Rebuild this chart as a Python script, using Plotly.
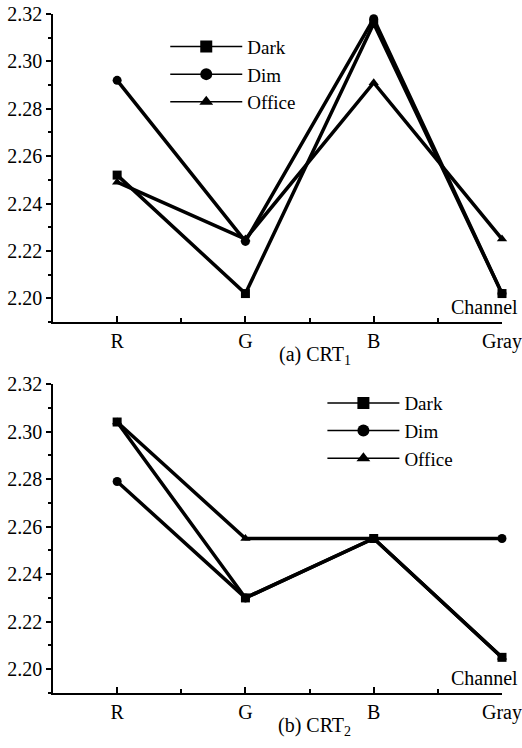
import plotly.graph_objects as go
from plotly.subplots import make_subplots

channels = ["R", "G", "B", "Gray"]
series_names = ["Dark", "Dim", "Office"]
symbols = ["square", "circle", "triangle-up"]

crt1_dark = [2.252, 2.202, 2.316, 2.202]
crt1_dim = [2.292, 2.224, 2.318, 2.202]
crt1_office = [2.249, 2.225, 2.291, 2.225]

crt2_dark = [2.304, 2.230, 2.255, 2.205]
crt2_dim = [2.279, 2.230, 2.255, 2.255]
crt2_office = [2.304, 2.255, 2.255, 2.205]

titles = ["(a) CRT<sub>1</sub>", "(b) CRT<sub>2</sub>"]

FONT = "Liberation Serif, Times New Roman, serif"
xs = list(range(len(channels)))

fig = make_subplots(rows=2, cols=1, vertical_spacing=0.09)

panels = [[crt1_dark, crt1_dim, crt1_office], [crt2_dark, crt2_dim, crt2_office]]
legends = ["legend", "legend2"]
for r, data in enumerate(panels, start=1):
    for name, sym, vals in zip(series_names, symbols, data):
        fig.add_trace(go.Scatter(
            x=xs, y=vals, mode="lines+markers", name=name,
            line=dict(color="black", width=3.5),
            marker=dict(symbol=sym, size=9, color="black"),
            showlegend=False, cliponaxis=False,
        ), row=r, col=1)
    for name, sym in zip(series_names, symbols):
        fig.add_trace(go.Scatter(
            x=[None], y=[None], mode="lines+markers", name=name,
            line=dict(color="black", width=1.5),
            marker=dict(symbol=sym, size=12, color="black"),
            legend=legends[r - 1], showlegend=True,
        ), row=r, col=1)

axis_font = dict(family=FONT, size=20, color="black")
for r in (1, 2):
    fig.update_xaxes(
        range=[-0.5, 3], tickmode="array", tickvals=xs, ticktext=channels,
        showline=True, linecolor="black", linewidth=1.5, mirror=False,
        ticks="inside", ticklen=6, tickwidth=1.5, tickcolor="black",
        minor=dict(tickmode="linear", tick0=0.5, dtick=1, ticks="inside", ticklen=4, tickwidth=1.5, tickcolor="black"),
        showgrid=False, zeroline=False, tickfont=axis_font, automargin=False,
        row=r, col=1)
    fig.update_yaxes(
        range=[2.19, 2.32], tickmode="linear", tick0=2.20, dtick=0.02, tickformat=".2f",
        showline=True, linecolor="black", linewidth=1.5,
        ticks="outside", ticklen=5, tickwidth=1.5, tickcolor="black",
        minor=dict(tickmode="linear", tick0=2.19, dtick=0.01, ticks="outside", ticklen=3, tickwidth=1.5, tickcolor="black"),
        showgrid=False, zeroline=False, tickfont=axis_font, automargin=False,
        row=r, col=1)

fig.update_layout(
    width=522, height=748,
    margin=dict(l=53, r=20, t=14, b=55),
    plot_bgcolor="white", paper_bgcolor="white",
    font=dict(family=FONT, size=20, color="black"),
    yaxis=dict(domain=[0.5464, 1.0]),
    yaxis2=dict(domain=[0.0, 0.4551]),
    legend=dict(x=0.25, y=0.98, xanchor="left", yanchor="top", bgcolor="rgba(0,0,0,0)",
                font=dict(family=FONT, size=19), itemwidth=72, tracegroupgap=0),
    legend2=dict(x=0.6, y=0.455, xanchor="left", yanchor="top", bgcolor="rgba(0,0,0,0)",
                 font=dict(family=FONT, size=19), itemwidth=72, tracegroupgap=0),
    showlegend=True,
)

for i, (t, yd) in enumerate(zip(titles, ["y domain", "y2 domain"])):
    xr = "x domain" if i == 0 else "x2 domain"
    fig.add_annotation(text="Channel", xref=xr, yref=yd, x=1.04, y=0, xanchor="right",
                       yanchor="bottom", yshift=2, showarrow=False,
                       font=dict(family=FONT, size=20, color="black"))
    fig.add_annotation(text=t, xref=xr, yref=yd, x=0.583, y=0, xanchor="center",
                       yanchor="top", yshift=-19, showarrow=False,
                       font=dict(family=FONT, size=20, color="black"))

fig.write_html("out.html", config={"displayModeBar": False},
               post_script="document.body.style.margin='0';document.body.style.overflow='hidden';")
